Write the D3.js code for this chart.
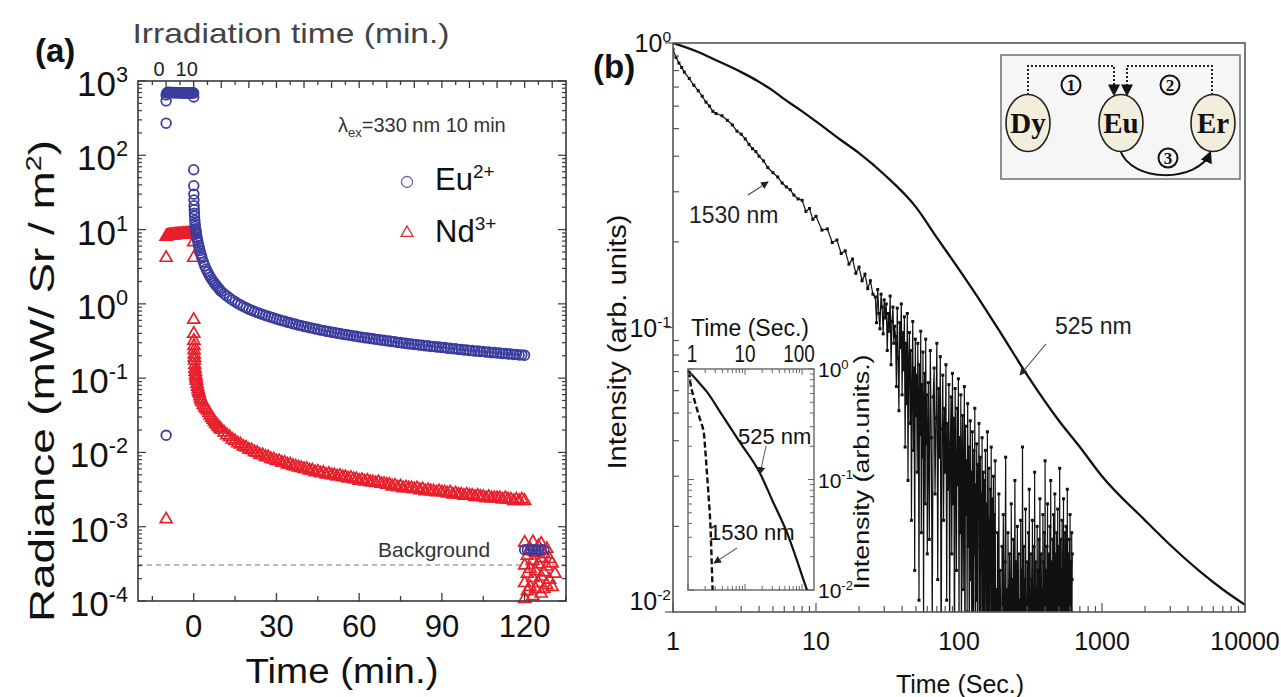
<!DOCTYPE html>
<html><head><meta charset="utf-8">
<script src="https://cdn.jsdelivr.net/npm/d3@7"></script>
<style>body{margin:0;background:#fff}svg{display:block}</style>
</head><body>
<svg id="fig" width="1281" height="697"></svg>
<script>
// ---------------- Panel (a): radiance vs time ----------------
// Eu2+ / Nd3+ emission during 330 nm irradiation, read every 15 s (bottom-axis minutes, mW/Sr/m²)
const irrTime = d3.range(-10, 0.001, 0.25);
const euIrr = [650,690,700,704,701,698,703,700,697,701,699,696,700,698,695,699,697,694,698,696,693,697,695,692,696,694,691,695,693,690,694,692,689,693,691,688,692,690,688,691,689];
const ndIrr = [8.3,8.4,8.5,8.5,8.6,8.5,8.6,8.7,8.6,8.7,8.7,8.6,8.7,8.8,8.7,8.8,8.7,8.8,8.8,8.9,8.8,8.9,8.8,8.9,8.9,9.0,8.9,8.9,9.0,8.9,9.0,9.0,9.1,9.0,9.0,9.1,9.0,9.1,9.1,9.0,9.1];
// isolated readings at the start and end of irradiation
const euEdgeTime  = [-10, -10, -10, 0];
const euEdgeValue = [0.017, 270, 540, 610];
const ndEdgeTime  = [-10, -10, 0, 0];
const ndEdgeValue = [0.0013, 4.3, 7.0, 4.3];

// afterglow decay: first ten minutes (irregular sampling)
const decayEarlyTime = [0,0.03,0.06,0.1,0.15,0.2,0.25,0.3,0.4,0.5,0.6,0.7,0.8,0.9,1,1.2,1.4,1.6,1.8,2,2.25,2.5,2.75,3,3.5,4,4.5,5,5.5,6,6.5,7,7.5,8,8.5,9,9.5];
const euEarly = [64,39,30,25,21,18.5,16.6,15.2,13.3,12.0,11.0,10.3,9.7,9.2,8.8,7.9,7.2,6.6,6.1,5.7,5.2,4.8,4.45,4.15,3.65,3.25,2.95,2.7,2.48,2.3,2.15,2.02,1.9,1.8,1.71,1.62,1.54];
const ndEarly = [0.63,0.41,0.33,0.28,0.245,0.215,0.195,0.178,0.155,0.138,0.126,0.116,0.108,0.101,0.095,0.086,0.079,0.073,0.068,0.064,0.059,0.055,0.052,0.049,0.045,0.042,0.040,0.038,0.035,0.0324,0.0303,0.0284,0.0267,0.0252,0.0239,0.0228,0.0217];

// afterglow decay: one reading per minute from 10 to 120 min
const lateTime = d3.range(10, 121, 1);
const euLate = [1.47,1.37,1.28,1.20,1.13,1.07,1.01,0.965,0.920,0.886,0.848,0.822,0.790,0.768,0.740,0.721,0.697,0.681,0.659,0.645,0.625,
  0.612,0.594,0.583,0.565,0.556,0.540,0.532,0.517,0.510,0.496,0.490,0.477,0.472,0.460,0.455,0.443,0.440,0.428,0.425,0.415,
  0.411,0.403,0.399,0.390,0.387,0.380,0.377,0.369,0.366,0.359,0.357,0.350,0.348,0.341,0.339,0.333,0.331,0.325,0.324,0.317,
  0.316,0.310,0.309,0.302,0.302,0.296,0.295,0.289,0.289,0.284,0.283,0.278,0.278,0.272,0.273,0.267,0.268,0.262,0.262,0.258,
  0.258,0.253,0.253,0.248,0.249,0.244,0.244,0.239,0.240,0.236,0.236,0.231,0.232,0.228,0.229,0.224,0.225,0.220,0.221,0.218,
  0.218,0.214,0.215,0.211,0.212,0.208,0.209,0.205,0.206,0.203];
const ndLate = [0.0208,0.0192,0.0176,0.0167,0.0154,0.0147,0.0137,0.0132,0.0124,0.0120,0.0113,0.0111,0.0104,0.0102,0.0096,0.0095,0.0090,0.0089,0.0084,0.0083,0.0079,
  0.0079,0.0075,0.0075,0.0071,0.0071,0.0068,0.0067,0.0065,0.0064,0.0062,0.0062,0.0059,0.0059,0.0056,0.0057,0.0054,0.0055,0.0052,0.0053,0.0051,
  0.0051,0.0049,0.0050,0.0048,0.0048,0.0046,0.0047,0.0045,0.0045,0.0043,0.0044,0.0042,0.0043,0.0041,0.0041,0.0040,0.0041,0.0039,0.0039,0.0038,
  0.0038,0.0036,0.0037,0.0035,0.0036,0.0034,0.0035,0.0034,0.0034,0.0033,0.0034,0.0032,0.0033,0.0031,0.0032,0.0031,0.0031,0.0030,0.0031,0.0030,
  0.0030,0.0029,0.0030,0.0028,0.0029,0.0028,0.0028,0.0027,0.0028,0.0027,0.0027,0.0026,0.0027,0.0026,0.0026,0.0025,0.0026,0.0025,0.0025,0.0025,
  0.0025,0.0024,0.0025,0.0024,0.0024,0.0023,0.0024,0.0023,0.0024,0.0023];

// background readings after the sample is removed
const bgEuTime  = [120,121,122,123,124,125,126,127];
const bgEuValue = [4.9e-4,4.9e-4,4.8e-4,4.9e-4,4.9e-4,4.8e-4,4.9e-4,4.9e-4];
const bgNdTime  = [120,120,120,120,121,121,121,122,122,122,123,123,123,123,124,124,124,125,125,125,126,126,126,126,127,127,127,128,128,128,129,129,130,130,131];
const bgNdValue = [6.3e-4,3.1e-4,1.8e-4,1.1e-4,4.2e-4,2.4e-4,1.4e-4,5.1e-4,2.8e-4,1.6e-4,6.4e-4,3.6e-4,2.1e-4,1.2e-4,4.6e-4,2.6e-4,1.5e-4,5.6e-4,3.2e-4,1.8e-4,6.1e-4,3.9e-4,2.2e-4,1.3e-4,4.4e-4,2.5e-4,1.5e-4,5.2e-4,3.0e-4,1.7e-4,3.8e-4,2.0e-4,3.3e-4,1.6e-4,2.4e-4];
const backgroundLevel = 3.05e-4;

const xTicksA = [0, 30, 60, 90, 120];
const topTicksA = [0, 10];

// ---------------- Panel (b): normalised decay curves ----------------
const t525 = [1,1.5,2,3,4,5,6,8,10,15,20,30,50,70,100,150,200,300,500,700,1000,2000,3000,5000,7000,10000];
const i525 = [1.0,0.93,0.87,0.79,0.73,0.68,0.635,0.575,0.53,0.455,0.41,0.345,0.265,0.207,0.16,0.118,0.094,0.068,0.047,0.038,0.030,0.021,0.0172,0.0137,0.0120,0.0106];

// 1530 nm trace: early record at irregular sample times (s)
const t1530Early = [1,1.05,1.1,1.15,1.2,1.3,1.4,1.5,1.6,1.7,1.8,1.9,2,2.2,2.4,2.6,2.8,3,3.2,3.4,3.6,3.8,4,4.3,4.6,5,5.4,5.8,6.2,6.6,7,7.5,8,8.5,9,9.5,10,11,12,13,14,15,16,17,18,19,20,21,22,23,24,25];
const i1530Early = [0.95,0.89,0.85,0.82,0.79,0.75,0.71,0.68,0.65,0.62,0.60,0.575,0.565,0.555,0.535,0.515,0.49,0.478,0.46,0.44,0.425,0.415,0.40,0.385,0.365,0.35,0.338,0.322,0.312,0.305,0.292,0.283,
  0.280,0.256,0.262,0.240,0.246,0.220,0.222,0.199,0.203,0.182,0.186,0.167,0.174,0.155,0.163,0.146,0.154,0.137,0.146,0.131];
// 26 s to 60 s, every 0.5 s
const i1530Mid = [0.128,0.104,0.136,0.112,0.099,0.131,0.118,0.095,0.125,0.108,
  0.121,0.083,0.112,0.097,0.129,0.074,0.105,0.118,0.088,0.101,
  0.093,0.062,0.117,0.078,0.051,0.104,0.085,0.121,0.058,0.096,
  0.071,0.109,0.038,0.088,0.054,0.112,0.029,0.079,0.096,0.046,
  0.083,0.021,0.064,0.105,0.037,0.072,0.014,0.091,0.049,0.068,
  0.031,0.088,0.056,0.011,0.074,0.042,0.097,0.019,0.063,0.035,
  0.082,0.009,0.051,0.069,0.024,0.091,0.039,0.058,0.016];
// 61 s to 180 s, every 1 s (readings under 0.01 sit below the axis)
const i1530Late = [0.064,0.018,0.083,0.041,0.009,0.057,0.072,0.026,0.048,0.088,
  0.013,0.061,0.035,0.079,0.006,0.044,0.068,0.021,0.052,0.031,
  0.074,0.011,0.046,0.027,0.063,0.008,0.039,0.057,0.016,0.069,
  0.024,0.048,0.005,0.061,0.033,0.014,0.052,0.028,0.066,0.009,
  0.041,0.019,0.058,0.007,0.036,0.049,0.012,0.029,0.062,0.004,
  0.045,0.022,0.034,0.010,0.054,0.017,0.038,0.006,0.027,0.047,
  0.013,0.031,0.005,0.043,0.021,0.008,0.037,0.016,0.052,0.004,
  0.028,0.011,0.039,0.019,0.006,0.033,0.024,0.046,0.009,0.017,
  0.035,0.004,0.026,0.014,0.041,0.007,0.022,0.031,0.012,0.003,
  0.029,0.018,0.037,0.006,0.015,0.024,0.010,0.043,0.005,0.020,
  0.013,0.032,0.004,0.021,0.009,0.027,0.016,0.038,0.006,0.011,
  0.025,0.003,0.018,0.030,0.008,0.014,0.022,0.005,0.034,0.010];
// 182 s to 620 s, every 2 s
const i1530Tail = [0.012,0.004,0.019,0.008,0.026,0.005,0.014,0.009,0.003,0.017,
  0.007,0.022,0.011,0.004,0.015,0.035,0.006,0.012,0.002,0.019,
  0.009,0.005,0.016,0.011,0.003,0.024,0.008,0.013,0.006,0.018,
  0.004,0.010,0.029,0.007,0.015,0.003,0.012,0.020,0.005,0.009,
  0.016,0.006,0.011,0.002,0.021,0.008,0.014,0.004,0.038,0.010,
  0.005,0.017,0.009,0.013,0.003,0.023,0.007,0.011,0.006,0.015,
  0.010,0.004,0.019,0.008,0.027,0.005,0.012,0.002,0.016,0.009,
  0.013,0.006,0.021,0.004,0.011,0.008,0.017,0.003,0.031,0.007,
  0.009,0.015,0.005,0.012,0.002,0.020,0.008,0.014,0.006,0.011,
  0.018,0.004,0.010,0.025,0.006,0.013,0.003,0.016,0.009,0.007,
  0.012,0.005,0.022,0.008,0.015,0.002,0.011,0.019,0.004,0.034,
  0.007,0.014,0.006,0.010,0.003,0.017,0.009,0.024,0.005,0.012,
  0.004,0.016,0.008,0.013,0.002,0.020,0.006,0.011,0.029,0.007,
  0.010,0.005,0.015,0.009,0.003,0.018,0.012,0.004,0.022,0.008,
  0.013,0.006,0.011,0.026,0.005,0.016,0.002,0.010,0.014,0.007,
  0.019,0.004,0.012,0.008,0.023,0.003,0.015,0.009,0.006,0.017,
  0.005,0.011,0.032,0.007,0.013,0.002,0.018,0.008,0.010,0.004,
  0.014,0.006,0.021,0.009,0.012,0.003,0.016,0.005,0.025,0.008,
  0.011,0.004,0.015,0.007,0.019,0.002,0.013,0.009,0.006,0.020,
  0.008,0.017,0.005,0.012,0.003,0.027,0.010,0.006,0.014,0.004,
  0.016,0.009,0.011,0.002,0.018,0.007,0.013,0.005,0.022,0.008,
  0.012,0.004,0.015,0.006,0.010,0.003,0.019,0.007,0.013,0.016];

// inset: short-time decay of both emissions
const tInset525 = [1,1.5,2.15,4,8,18.3,30,54.5,80,100,122];
const iInset525 = [0.97,0.77,0.62,0.38,0.22,0.114,0.065,0.033,0.019,0.0135,0.0100];
const tInset1530 = [1.05,1.1,1.3,1.6,1.86,2.0,2.13,2.3,2.43,2.55,2.62,2.7];
const iInset1530 = [0.95,0.75,0.52,0.36,0.28,0.19,0.122,0.07,0.046,0.025,0.016,0.010];

const xTicksB = [1, 10, 100, 1000, 10000];
const xTicksInset = [1, 10, 100];

// ---------------- drawing ----------------
const SANS = "'Liberation Sans',Arial,Helvetica,sans-serif";
const svg = d3.select('#fig').attr('font-family', SANS);

function logTicks(lo, hi) {
  const out = [];
  for (let e = lo; e < hi; e++) for (let m = 1; m < 10; m++) out.push({v: m * Math.pow(10, e), major: m === 1});
  out.push({v: Math.pow(10, hi), major: true});
  return out;
}
function powerLabel(g, x, y, exp, size, anchor, fill) {
  const t = g.append('text').attr('x', x).attr('y', y).attr('font-size', size)
    .attr('text-anchor', anchor).attr('fill', fill || '#111');
  t.append('tspan').text('10');
  t.append('tspan').attr('dy', -size * 0.4).attr('font-size', size * 0.62).text(exp);
  return t;
}

// ===== Panel (a) =====
const xA = d3.scaleLinear().domain([-20.2, 135]).range([138, 566]);
const yA = d3.scaleLog().domain([1e-4, 1e3]).range([601, 81]);
const gA = svg.append('g');
const axisColA = '#3a3a3a';

gA.append('line').attr('x1', xA.range()[0]).attr('x2', xA.range()[1])
  .attr('y1', yA(backgroundLevel)).attr('y2', yA(backgroundLevel))
  .attr('stroke', '#777').attr('stroke-width', 1.2).attr('stroke-dasharray', '5,4');

const triangle = d3.symbol().type(d3.symbolTriangle).size(62);
const ndColor = '#e8202c', euColor = '#3b3d9e';

const ndPoints = [], euPoints = [];
irrTime.forEach((t, i) => { ndPoints.push([t, ndIrr[i]]); euPoints.push([t, euIrr[i]]); });
ndEdgeTime.forEach((t, i) => ndPoints.push([t, ndEdgeValue[i]]));
euEdgeTime.forEach((t, i) => euPoints.push([t, euEdgeValue[i]]));
decayEarlyTime.forEach((t, i) => { ndPoints.push([t, ndEarly[i]]); euPoints.push([t, euEarly[i]]); });
lateTime.forEach((t, i) => { ndPoints.push([t, ndLate[i]]); euPoints.push([t, euLate[i]]); });
bgNdTime.forEach((t, i) => ndPoints.push([t, bgNdValue[i]]));
bgEuTime.forEach((t, i) => euPoints.push([t, bgEuValue[i]]));

gA.append('g').selectAll('path').data(ndPoints).join('path')
  .attr('d', triangle).attr('transform', d => `translate(${xA(d[0])},${yA(d[1]) + 1})`)
  .attr('fill', 'none').attr('stroke', ndColor).attr('stroke-width', 1.7);
gA.append('g').selectAll('circle').data(euPoints).join('circle')
  .attr('cx', d => xA(d[0])).attr('cy', d => yA(d[1])).attr('r', 4.8)
  .attr('fill', 'none').attr('stroke', euColor).attr('stroke-width', 1.8);

gA.append('rect').attr('x', 138).attr('y', 81).attr('width', 428).attr('height', 520)
  .attr('fill', 'none').attr('stroke', axisColA).attr('stroke-width', 1.6);

d3.range(-15, 136, 15).forEach(v => {
  const major = v % 30 === 0, x = xA(v);
  gA.append('line').attr('x1', x).attr('x2', x).attr('y1', 601).attr('y2', 601 - (major ? 8 : 5))
    .attr('stroke', axisColA).attr('stroke-width', 1.3);
});
xTicksA.forEach(v => gA.append('text').attr('x', xA(v)).attr('y', 637).attr('font-size', 31)
  .attr('text-anchor', 'middle').attr('fill', '#111').text(v));
d3.range(-5, 146, 5).forEach(v => {
  const x = xA(v - 10);
  if (x < 139 || x > 565) return;
  gA.append('line').attr('x1', x).attr('x2', x).attr('y1', 81).attr('y2', 81 + (v % 10 === 0 ? 7 : 4))
    .attr('stroke', axisColA).attr('stroke-width', 1.3);
});
topTicksA.forEach(v => gA.append('text').attr('x', xA(v - 10) - 7).attr('y', 76).attr('font-size', 20)
  .attr('text-anchor', 'middle').attr('fill', '#222').text(v));

logTicks(-4, 3).forEach(d => {
  const y = yA(d.v), len = d.major ? 8 : 4;
  gA.append('line').attr('x1', 138).attr('x2', 138 + len).attr('y1', y).attr('y2', y).attr('stroke', axisColA).attr('stroke-width', 1.2);
  gA.append('line').attr('x1', 566).attr('x2', 566 - len).attr('y1', y).attr('y2', y).attr('stroke', axisColA).attr('stroke-width', 1.2);
  if (d.major) powerLabel(gA, 128, y + 15, String(Math.round(Math.log10(d.v))), 35, 'end');
});

gA.append('text').attr('x', 35).attr('y', 62).attr('font-size', 33).attr('font-weight', 'bold').attr('fill', '#111').text('(a)');
gA.append('text').attr('x', 291).attr('y', 43).attr('font-size', 28).attr('text-anchor', 'middle')
  .attr('textLength', 317).attr('lengthAdjust', 'spacingAndGlyphs').attr('fill', '#444').text('Irradiation time (min.)');
gA.append('text').attr('x', 342).attr('y', 683).attr('font-size', 35).attr('text-anchor', 'middle')
  .attr('textLength', 193).attr('lengthAdjust', 'spacingAndGlyphs').attr('fill', '#111').text('Time (min.)');
const ylab = gA.append('text').attr('transform', 'translate(54,381) rotate(-90)').attr('font-size', 35)
  .attr('text-anchor', 'middle').attr('textLength', 482).attr('lengthAdjust', 'spacingAndGlyphs').attr('fill', '#111');
ylab.append('tspan').text('Radiance  (mW/ Sr / m');
ylab.append('tspan').attr('dy', -13).attr('font-size', 22).text('2');
ylab.append('tspan').attr('dy', 13).text(')');

const lam = gA.append('text').attr('x', 338).attr('y', 132).attr('font-size', 20).attr('fill', '#333');
lam.append('tspan').text('λ');
lam.append('tspan').attr('dy', 5).attr('font-size', 13).text('ex');
lam.append('tspan').attr('dy', -5).text('=330 nm 10 min');

gA.append('circle').attr('cx', 407).attr('cy', 182).attr('r', 5.5).attr('fill', 'none').attr('stroke', '#6667b3').attr('stroke-width', 1.3);
gA.append('path').attr('d', triangle).attr('transform', 'translate(407,233)').attr('fill', 'none').attr('stroke', '#e0303e').attr('stroke-width', 1.3);
[['Eu', '2+', 190], ['Nd', '3+', 242]].forEach(([b, s, y]) => {
  const t = gA.append('text').attr('x', 435).attr('y', y).attr('font-size', 31).attr('fill', '#111');
  t.append('tspan').text(b);
  t.append('tspan').attr('dy', -12).attr('font-size', 19).text(s);
});
gA.append('text').attr('x', 378).attr('y', 557).attr('font-size', 21).attr('fill', '#333').text('Background');

// ===== Panel (b) =====
const xB = d3.scaleLog().domain([1, 10000]).range([673, 1245]);
const yB = d3.scaleLog().domain([0.01, 1]).range([612, 43]);
const gB = svg.append('g');
const axisColB = '#555';

gB.append('clipPath').attr('id', 'clipB').append('rect').attr('x', 673).attr('y', 43).attr('width', 572).attr('height', 569);

const trace1530 = [];
t1530Early.forEach((t, i) => trace1530.push([t, i1530Early[i]]));
d3.range(26, 60.01, 0.5).forEach((t, i) => trace1530.push([t, i1530Mid[i]]));
d3.range(61, 181, 1).forEach((t, i) => trace1530.push([t, i1530Late[i]]));
d3.range(182, 621, 2).forEach((t, i) => trace1530.push([t, i1530Tail[i]]));

const plotB = gB.append('g').attr('clip-path', 'url(#clipB)');
const lineB = d3.line().x(d => xB(d[0])).y(d => yB(d[1]));
plotB.append('path').attr('d', lineB(trace1530)).attr('fill', 'none').attr('stroke', '#111').attr('stroke-width', 1.2);
plotB.append('g').selectAll('rect').data(trace1530).join('rect')
  .attr('x', d => xB(d[0]) - 1.5).attr('y', d => yB(d[1]) - 1.5).attr('width', 3).attr('height', 3).attr('fill', '#111');
plotB.append('path').attr('d', d3.line().x(d => xB(d[0])).y(d => yB(d[1])).curve(d3.curveMonotoneX)(t525.map((t, i) => [t, i525[i]])))
  .attr('fill', 'none').attr('stroke', '#111').attr('stroke-width', 2.3);

gB.append('rect').attr('x', 673).attr('y', 43).attr('width', 572).attr('height', 569)
  .attr('fill', 'none').attr('stroke', axisColB).attr('stroke-width', 1.6);

logTicks(0, 4).forEach(d => {
  const x = xB(d.v);
  gB.append('line').attr('x1', x).attr('x2', x).attr('y1', 612).attr('y2', 612 - (d.major ? 9 : 6)).attr('stroke', axisColB).attr('stroke-width', 1.2);
});
xTicksB.forEach(v => gB.append('text').attr('x', xB(v)).attr('y', 650).attr('font-size', 25)
  .attr('text-anchor', 'middle').attr('fill', '#111').text(v));
logTicks(-2, 0).forEach(d => {
  const y = yB(d.v);
  if (d.major) gB.append('line').attr('x1', 665).attr('x2', 673).attr('y1', y).attr('y2', y).attr('stroke', axisColB).attr('stroke-width', 1.2);
  else gB.append('line').attr('x1', 673).attr('x2', 679).attr('y1', y).attr('y2', y).attr('stroke', axisColB).attr('stroke-width', 1.2);
});
[[0, 9], [-1, 9], [-2, -2]].forEach(([e, dy]) => powerLabel(gB, 671, yB(Math.pow(10, e)) + dy, String(e), 25, 'end'));

gB.append('text').attr('x', 593).attr('y', 78).attr('font-size', 33).attr('font-weight', 'bold').attr('fill', '#111').text('(b)');
gB.append('text').attr('x', 960).attr('y', 693).attr('font-size', 25).attr('text-anchor', 'middle').attr('fill', '#111').text('Time (Sec.)');
gB.append('text').attr('transform', 'translate(626,342) rotate(-90)').attr('font-size', 25)
  .attr('text-anchor', 'middle').attr('textLength', 255).attr('lengthAdjust', 'spacingAndGlyphs').attr('fill', '#111').text('Intensity (arb. units)');

const defs = svg.append('defs');
defs.append('marker').attr('id', 'ah').attr('viewBox', '0 0 10 10').attr('refX', 9).attr('refY', 5)
  .attr('markerWidth', 7).attr('markerHeight', 7).attr('orient', 'auto-start-reverse')
  .append('path').attr('d', 'M0,0L10,5L0,10z').attr('fill', '#222');
function arrow(g, x1, y1, x2, y2, col) {
  g.append('line').attr('x1', x1).attr('y1', y1).attr('x2', x2).attr('y2', y2)
    .attr('stroke', col || '#444').attr('stroke-width', 1.1).attr('marker-end', 'url(#ah)');
}
gB.append('text').attr('x', 689).attr('y', 223).attr('font-size', 23).attr('fill', '#222').text('1530 nm');
arrow(gB, 748, 195, 768, 182);
gB.append('text').attr('x', 1055).attr('y', 334).attr('font-size', 23).attr('fill', '#222').text('525 nm');
arrow(gB, 1046, 344, 1020, 375);

// ===== Inset =====
const xI = d3.scaleLog().domain([1, 162]).range([688, 814]);
const yI = d3.scaleLog().domain([0.01, 1]).range([590, 369]);
const gI = gB.append('g');
gI.append('rect').attr('x', 688).attr('y', 369).attr('width', 126).attr('height', 221)
  .attr('fill', '#fff').attr('stroke', '#777').attr('stroke-width', 1.6);
gI.append('path').attr('d', d3.line().x(d => xI(d[0])).y(d => yI(d[1])).curve(d3.curveMonotoneX)(tInset525.map((t, i) => [t, iInset525[i]])))
  .attr('fill', 'none').attr('stroke', '#111').attr('stroke-width', 2.2);
gI.append('path').attr('d', d3.line().x(d => xI(d[0])).y(d => yI(d[1])).curve(d3.curveMonotoneY)(tInset1530.map((t, i) => [t, iInset1530[i]])))
  .attr('fill', 'none').attr('stroke', '#111').attr('stroke-width', 2.4).attr('stroke-dasharray', '6,3');
logTicks(0, 2).filter(d => d.v <= 162).forEach(d => {
  const x = xI(d.v), len = d.major ? 6 : 4;
  gI.append('line').attr('x1', x).attr('x2', x).attr('y1', 369).attr('y2', 369 + len).attr('stroke', '#666');
  gI.append('line').attr('x1', x).attr('x2', x).attr('y1', 590).attr('y2', 590 - len).attr('stroke', '#666');
});
logTicks(-2, 0).forEach(d => {
  const y = yI(d.v), len = d.major ? 6 : 4;
  gI.append('line').attr('x1', 688).attr('x2', 688 + len).attr('y1', y).attr('y2', y).attr('stroke', '#666');
  gI.append('line').attr('x1', 814).attr('x2', 814 - len).attr('y1', y).attr('y2', y).attr('stroke', '#666');
});
xTicksInset.forEach(v => gI.append('text').attr('x', v === 100 ? 799 : xI(v) + (v === 1 ? 4 : 0)).attr('y', 362).attr('font-size', 23)
  .attr('text-anchor', 'middle').attr('textLength', String(v).length * 10.5).attr('lengthAdjust', 'spacingAndGlyphs')
  .attr('fill', '#111').text(v));
[0, -1, -2].forEach(e => powerLabel(gI, 818, yI(Math.pow(10, e)) + 8, String(e), 21, 'start'));
gI.append('text').attr('x', 750).attr('y', 336).attr('font-size', 23).attr('text-anchor', 'middle').attr('fill', '#111').text('Time (Sec.)');
gI.append('text').attr('transform', 'translate(869,472) rotate(-90)').attr('font-size', 22)
  .attr('text-anchor', 'middle').attr('textLength', 235).attr('lengthAdjust', 'spacingAndGlyphs').attr('fill', '#111').text('Intensity (arb.units.)');
gI.append('text').attr('x', 738).attr('y', 444).attr('font-size', 22).attr('fill', '#111').text('525 nm');
arrow(gI, 766, 446, 760, 474, '#666');
gI.append('text').attr('x', 709).attr('y', 540).attr('font-size', 22).attr('fill', '#111').text('1530 nm');
arrow(gI, 737, 548, 714, 563, '#666');

// ===== Energy-transfer scheme =====
const gS = gB.append('g');
gS.append('rect').attr('x', 1001).attr('y', 55).attr('width', 239).attr('height', 124)
  .attr('fill', '#f6f6f6').attr('stroke', '#777').attr('stroke-width', 1.6);
defs.append('marker').attr('id', 'sh').attr('viewBox', '0 0 10 10').attr('refX', 8).attr('refY', 5)
  .attr('markerWidth', 6).attr('markerHeight', 6).attr('orient', 'auto')
  .append('path').attr('d', 'M0,0L10,5L0,10z').attr('fill', '#111');
gS.append('path').attr('d', 'M1028,95V66H1114V94').attr('fill', 'none').attr('stroke', '#222')
  .attr('stroke-width', 2).attr('stroke-dasharray', '2,2').attr('marker-end', 'url(#sh)');
gS.append('path').attr('d', 'M1212,95V66H1127V94').attr('fill', 'none').attr('stroke', '#222')
  .attr('stroke-width', 2).attr('stroke-dasharray', '2,2').attr('marker-end', 'url(#sh)');
gS.append('path').attr('d', 'M1120,150C1132,184 1198,182 1210,153').attr('fill', 'none').attr('stroke', '#111')
  .attr('stroke-width', 2).attr('marker-end', 'url(#sh)');
[['Dy', 1028], ['Eu', 1121], ['Er', 1213]].forEach(([s, cx]) => {
  gS.append('ellipse').attr('cx', cx).attr('cy', 123).attr('rx', 22).attr('ry', 28.5)
    .attr('fill', '#f3eedb').attr('stroke', '#222').attr('stroke-width', 1.6);
  gS.append('text').attr('x', cx).attr('y', 133).attr('text-anchor', 'middle').attr('font-size', 29)
    .attr('font-weight', 'bold').attr('font-family', "'Liberation Serif','Times New Roman',serif").attr('fill', '#111').text(s);
});
[['1', 1071, 85], ['2', 1170, 85], ['3', 1168, 158]].forEach(([n, cx, cy]) => {
  gS.append('circle').attr('cx', cx).attr('cy', cy).attr('r', 9.5).attr('fill', '#f6f6f6').attr('stroke', '#111').attr('stroke-width', 2);
  gS.append('text').attr('x', cx).attr('y', cy + 6).attr('text-anchor', 'middle').attr('font-size', 17)
    .attr('font-weight', 'bold').attr('font-family', "'Liberation Serif',serif").attr('fill', '#111').text(n);
});
</script>
</body></html>
